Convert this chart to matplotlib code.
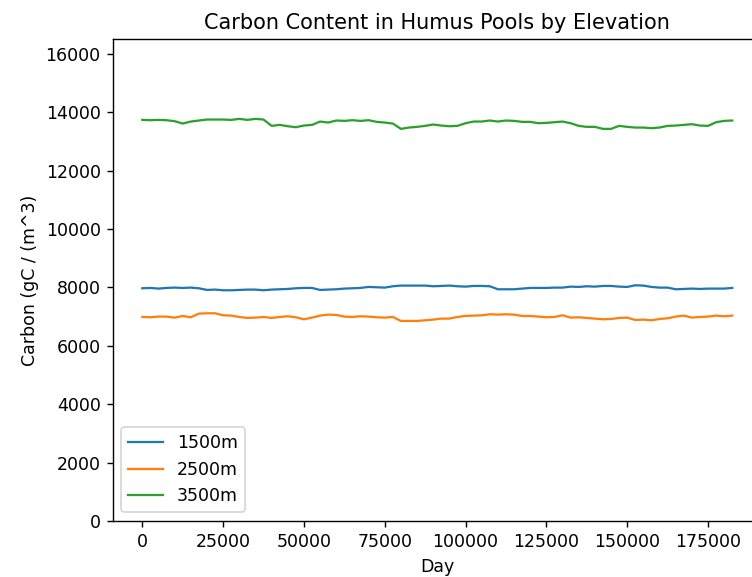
import numpy as np
import matplotlib
matplotlib.use('Agg')
import matplotlib.pyplot as plt

# sampling grid (days)
days = np.arange(0, 182501, 2500)

# humus carbon per elevation
carbon_1500 = [
    7971, 7983, 7960, 7983, 7994, 7983, 7994, 7971, 7914, 7926, 7903, 7903, 7914,
    7926, 7926, 7903, 7926, 7937, 7948, 7971, 7983, 7983, 7914, 7926, 7937,
    7960, 7971, 7983, 8017, 8006, 7994, 8040, 8063, 8063, 8063, 8063, 8040, 8051,
    8063, 8040, 8028, 8051, 8051, 8040, 7937, 7937, 7937, 7960, 7983, 7983,
    7983, 7994, 7994, 8028, 8017, 8040, 8028, 8051, 8051, 8028, 8017, 8074,
    8063, 8017, 7994, 7994, 7937, 7948, 7960, 7948, 7960, 7960, 7960, 7983,
]
carbon_2500 = [
    6989, 6978, 7001, 7001, 6966, 7023, 6978, 7103, 7115, 7115, 7046, 7035, 6989,
    6955, 6966, 6989, 6955, 6989, 7012, 6978, 6909, 6966, 7035, 7069, 7058,
    7001, 6989, 7012, 7001, 6978, 6966, 6989, 6852, 6852, 6852, 6875, 6898, 6932,
    6932, 6989, 7023, 7035, 7046, 7081, 7069, 7081, 7069, 7023, 7023, 7001,
    6978, 6989, 7046, 6966, 6978, 6955, 6932, 6909, 6920, 6955, 6966, 6886,
    6898, 6875, 6920, 6943, 7001, 7035, 6966, 6989, 7001, 7035, 7012, 7035,
]
carbon_3500 = [
    13738, 13727, 13738, 13727, 13693, 13613, 13681, 13716, 13750, 13750, 13750,
    13738, 13773, 13738, 13773, 13750, 13533, 13567, 13521, 13487, 13544, 13567,
    13681, 13647, 13716,
    13704, 13727, 13704, 13727, 13670, 13647, 13613, 13430, 13476, 13499, 13533,
    13579, 13544, 13521, 13533, 13624, 13681, 13681, 13716, 13681, 13716, 13704,
    13670, 13670, 13624,
    13636, 13658, 13681, 13624, 13533, 13499, 13499, 13430, 13430, 13533, 13499,
    13476, 13476, 13453, 13476, 13533, 13544, 13567, 13590, 13544, 13533, 13658,
    13704, 13716,
]
labels = ['1500m', '2500m', '3500m']

# reference looks rendered at ~125 dpi, so keep pixel size but scale text
fig = plt.figure(figsize=(752 / 125, 577 / 125), dpi=125)
ax = fig.add_axes([0.150, 0.097, 0.863, 0.835])

for vals, lab in zip([carbon_1500, carbon_2500, carbon_3500], labels):
    ax.plot(days, vals, label=lab, linewidth=1.3)

ax.set_ylim(0, 16500)
ax.set_title('Carbon Content in Humus Pools by Elevation')
ax.set_xlabel('Day')
ax.set_ylabel('Carbon (gC / (m^3)')
ax.legend(loc='lower left')

plt.savefig('out.png', dpi=125)
